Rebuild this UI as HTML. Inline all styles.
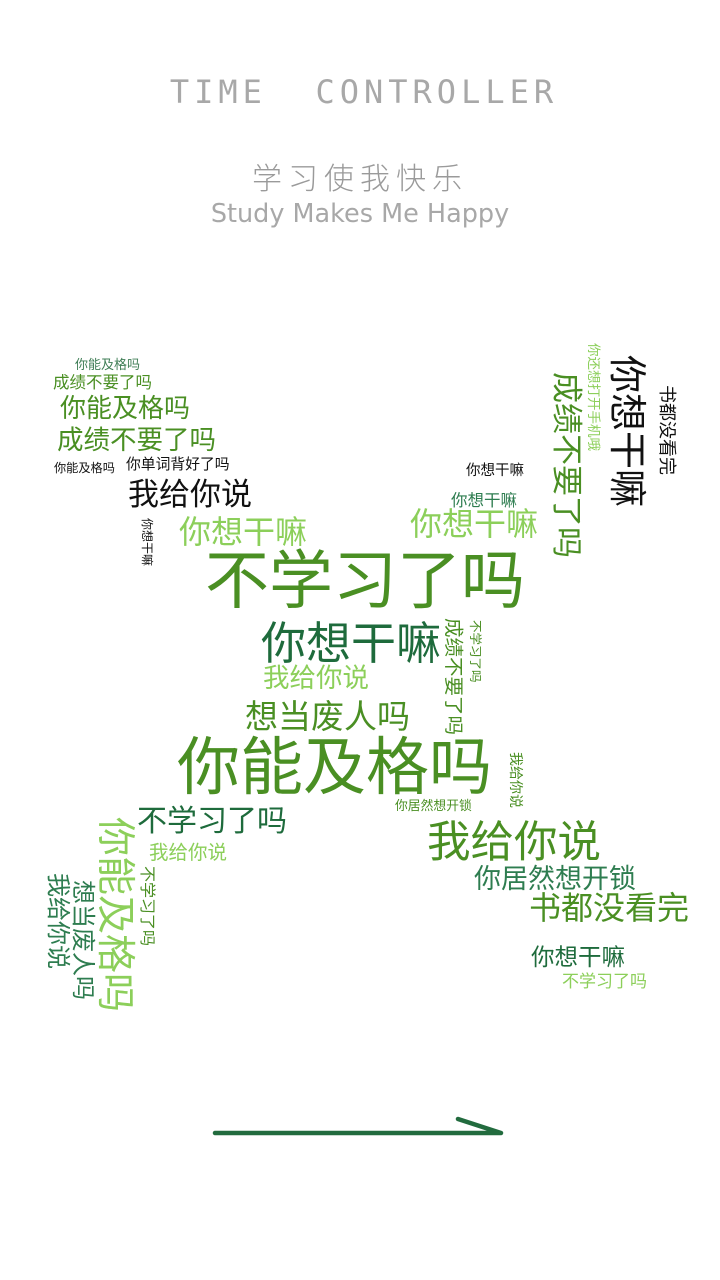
<!DOCTYPE html>
<html><head><meta charset="utf-8">
<style>
html,body{margin:0;padding:0;background:#fff;}
#stage{position:relative;width:720px;height:1280px;overflow:hidden;background:#fff;font-family:"Liberation Sans","Noto Sans CJK SC",sans-serif;}
.w{position:absolute;line-height:1;white-space:nowrap;font-family:"Noto Sans CJK SC","WenQuanYi Zen Hei",sans-serif;}
.v{transform-origin:0 0;transform:rotate(90deg);}
.g1{color:#4a8f23}.g2{color:#1e6b3c}.g3{color:#8ccf5a}.g4{color:#2e7d50}.k{color:#111}
</style></head><body>
<div id="stage">
<div style="position:absolute;left:0;width:720px;top:73px;text-align:center;color:#a8a8a8;font-family:'DejaVu Sans Mono','Liberation Mono',monospace;font-weight:200;font-size:32px;letter-spacing:5px;padding-left:4px">TIME&nbsp;&nbsp;CONTROLLER</div>
<div style="position:absolute;left:0;width:720px;top:160px;text-align:center;color:#9a9a9a;font-family:'Noto Sans CJK SC',sans-serif;font-weight:300;font-size:30px;letter-spacing:6px;line-height:1.1">学习使我快乐</div>
<div style="position:absolute;left:0;width:720px;top:199px;text-align:center;color:#a8a8a8;font-family:'DejaVu Sans','Liberation Sans',sans-serif;font-size:25.5px;line-height:1.2">Study Makes Me Happy</div>

<div class="w" style="left:75px;top:357px;font-size:13px;color:#3e7d55">你能及格吗</div>
<div class="w g1" style="left:53px;top:373px;font-size:16.5px">成绩不要了吗</div>
<div class="w g1" style="left:60px;top:394px;font-size:26px">你能及格吗</div>
<div class="w g1" style="left:57px;top:425px;font-size:26.5px">成绩不要了吗</div>
<div class="w k" style="left:54px;top:461px;font-size:12.2px">你能及格吗</div>
<div class="w k" style="left:126px;top:457px;font-size:14.8px">你单词背好了吗</div>
<div class="w k" style="left:128px;top:476px;font-size:31px">我给你说</div>
<div class="w g3" style="left:179px;top:514px;font-size:32px">你想干嘛</div>
<div class="w k" style="left:466px;top:463px;font-size:14.5px">你想干嘛</div>
<div class="w g4" style="left:451px;top:491px;font-size:16.5px">你想干嘛</div>
<div class="w g3" style="left:410px;top:506px;font-size:32px">你想干嘛</div>
<div class="w g1" style="left:205px;top:544px;font-size:64px">不学习了吗</div>
<div class="w g2" style="left:261px;top:617px;font-size:45px">你想干嘛</div>
<div class="w g3" style="left:263px;top:663px;font-size:26.5px">我给你说</div>
<div class="w g1" style="left:245px;top:698px;font-size:33px">想当废人吗</div>
<div class="w g1" style="left:177px;top:731px;font-size:63px">你能及格吗</div>
<div class="w g2" style="left:137px;top:803px;font-size:30px">不学习了吗</div>
<div class="w g3" style="left:149px;top:841px;font-size:19.5px">我给你说</div>
<div class="w g1" style="left:395px;top:799px;font-size:12.8px">你居然想开锁</div>
<div class="w g1" style="left:427px;top:817px;font-size:43.5px">我给你说</div>
<div class="w g4" style="left:474px;top:863px;font-size:27px">你居然想开锁</div>
<div class="w g1" style="left:529px;top:890px;font-size:32px">书都没看完</div>
<div class="w g2" style="left:531px;top:944px;font-size:23.5px">你想干嘛</div>
<div class="w g3" style="left:562px;top:971px;font-size:17px">不学习了吗</div>

<div class="w v g3" style="left:601px;top:343px;font-size:13.5px">你还想打开手机哦</div>
<div class="w v g1" style="left:585px;top:372px;font-size:31px">成绩不要了吗</div>
<div class="w v k" style="left:649px;top:355px;font-size:38px">你想干嘛</div>
<div class="w v k" style="left:677px;top:385px;font-size:18px">书都没看完</div>
<div class="w v k" style="left:153px;top:518px;font-size:12px">你想干嘛</div>
<div class="w v g1" style="left:465px;top:618px;font-size:19.5px">成绩不要了吗</div>
<div class="w v g1" style="left:482px;top:620px;font-size:12.5px">不学习了吗</div>
<div class="w v g1" style="left:523px;top:752px;font-size:14px">我给你说</div>
<div class="w v g3" style="left:137px;top:817px;font-size:39px">你能及格吗</div>
<div class="w v g4" style="left:97px;top:880px;font-size:24px">想当废人吗</div>
<div class="w v g4" style="left:72px;top:873px;font-size:24px">我给你说</div>
<div class="w v g1" style="left:157px;top:866px;font-size:16px">不学习了吗</div>

<svg style="position:absolute;left:0;top:0" width="720" height="1280">
<path d="M215 1133 L501 1133 L458 1119" fill="none" stroke="#226b3e" stroke-width="4.5" stroke-linecap="round" stroke-linejoin="round"/>
</svg>
</div>
</body></html>
